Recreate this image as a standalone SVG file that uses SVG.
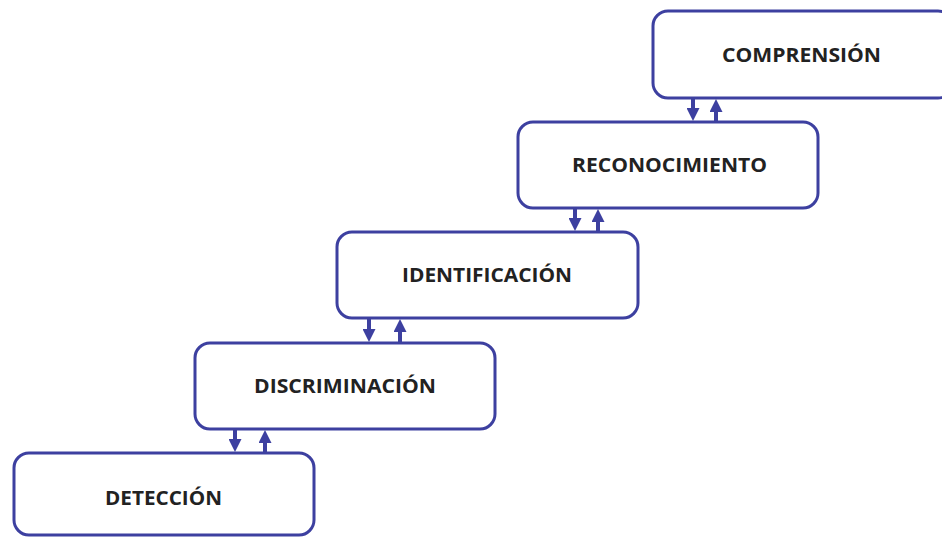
<svg xmlns="http://www.w3.org/2000/svg" width="942" height="537" viewBox="0 0 942 537">
<style>
.box{fill:#ffffff;stroke:#3d40a0;stroke-width:3}
.lbl{font-family:"Open Sans","Liberation Sans",sans-serif;font-weight:700;font-size:19px;fill:#222222;text-anchor:middle}
.conn line{stroke:#3d40a0;stroke-width:4;marker-end:url(#ah)}
</style>
<defs>
<marker id="ah" viewBox="0 0 10 10" refX="0" refY="5" markerWidth="13" markerHeight="13" preserveAspectRatio="none" markerUnits="userSpaceOnUse" orient="auto">
<path d="M0,0 L10,5 L0,10 z" fill="#3d40a0"/>
</marker>
</defs>
<rect width="942" height="537" fill="#ffffff"/>
<g id="comprension">
<rect class="box" x="653" y="11" width="300" height="87" rx="15"/>
<text class="lbl" x="801.5" y="62" textLength="159" lengthAdjust="spacingAndGlyphs">COMPRENSIÓN</text>
</g>
<g id="reconocimiento">
<rect class="box" x="518" y="122" width="300" height="86" rx="15"/>
<text class="lbl" x="669.5" y="172" textLength="195" lengthAdjust="spacingAndGlyphs">RECONOCIMIENTO</text>
</g>
<g id="identificacion">
<rect class="box" x="337" y="232" width="301" height="86" rx="15"/>
<text class="lbl" x="487" y="282" textLength="170" lengthAdjust="spacingAndGlyphs">IDENTIFICACIÓN</text>
</g>
<g id="discriminacion">
<rect class="box" x="195" y="343" width="300" height="86" rx="15"/>
<text class="lbl" x="345" y="393" textLength="182" lengthAdjust="spacingAndGlyphs">DISCRIMINACIÓN</text>
</g>
<g id="deteccion">
<rect class="box" x="14" y="453" width="300" height="82" rx="15"/>
<text class="lbl" x="163.5" y="505" textLength="117" lengthAdjust="spacingAndGlyphs">DETECCIÓN</text>
</g>
<g id="connectors" class="conn">
<line x1="693" y1="99" x2="693" y2="108"/>
<line x1="716" y1="121" x2="716" y2="112"/>
<line x1="575" y1="209" x2="575" y2="218"/>
<line x1="598" y1="231" x2="598" y2="222"/>
<line x1="369" y1="319" x2="369" y2="329"/>
<line x1="400" y1="342" x2="400" y2="332"/>
<line x1="235" y1="430" x2="235" y2="439"/>
<line x1="265" y1="452" x2="265" y2="443"/>
</g>
</svg>
